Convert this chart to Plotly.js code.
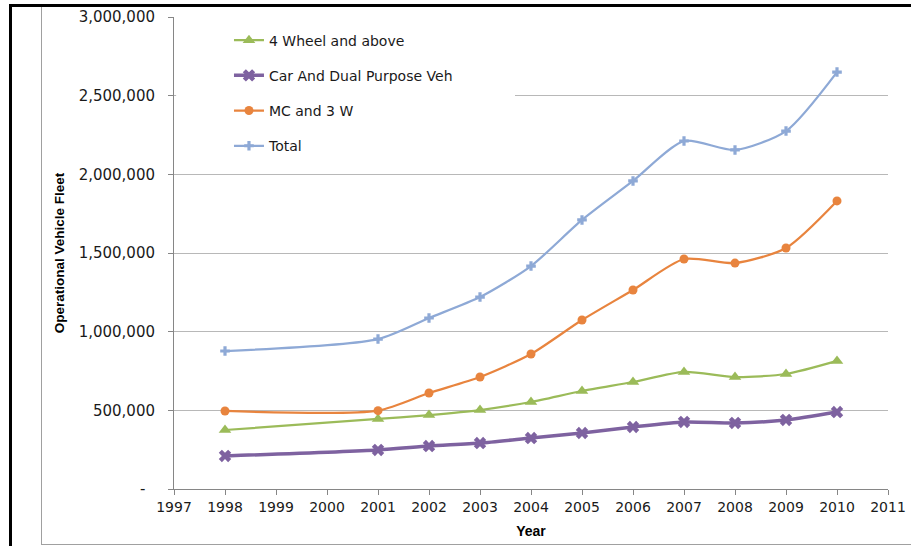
<!DOCTYPE html>
<html>
<head>
<meta charset="utf-8">
<script src="https://cdn.plot.ly/plotly-3.0.1.min.js"></script>
<style>
  html, body { margin: 0; padding: 0; background: #fff; }
  #wrap { position: relative; width: 911px; height: 546px; overflow: hidden; }
  #chart { position: absolute; left: 0; top: 0; width: 911px; height: 546px; }
  #blackframe { position: absolute; left: 9px; top: 4px; width: 920px; height: 560px;
    border-left: 3px solid #000; border-top: 3px solid #000; pointer-events: none; }
  #grayframe { position: absolute; left: 41px; top: 6px; width: 900px; height: 537px;
    border-left: 1px solid #a0a0a0; border-top: 1px solid #a0a0a0; border-bottom: 1px solid #a0a0a0; pointer-events: none; }
</style>
</head>
<body>
<div id="wrap">
  <div id="chart"></div>
  <div id="grayframe"></div>
  <div id="blackframe"></div>
</div>
<script>
const years = [1998, 2001, 2002, 2003, 2004, 2005, 2006, 2007, 2008, 2009, 2010];
const fourWheel = [375000, 445000, 470000, 502000, 553000, 623000, 680000, 744000, 712000, 731000, 814000];
const carDual = [210000, 248000, 273000, 292000, 324000, 356000, 394000, 426000, 420000, 439000, 489000];
const mc3w = [496000, 498000, 610000, 712000, 858000, 1074000, 1265000, 1462000, 1436000, 1532000, 1831000];
const total = [877000, 953000, 1087000, 1220000, 1417000, 1710000, 1958000, 2212000, 2155000, 2275000, 2650000];

const seriesNames = ['4 Wheel and above', 'Car And Dual Purpose Veh', 'MC and 3 W', 'Total'];
const xTickVals = [1997, 1998, 1999, 2000, 2001, 2002, 2003, 2004, 2005, 2006, 2007, 2008, 2009, 2010, 2011];
const yTickVals = [0, 500000, 1000000, 1500000, 2000000, 2500000, 3000000];
const yTickText = ['-\u00a0\u00a0', '500,000', '1,000,000', '1,500,000', '2,000,000', '2,500,000', '3,000,000'];

const traces = [
  { x: years, y: fourWheel, name: seriesNames[0], legendgroup: 'a', type: 'scatter', mode: 'lines+markers',
    line: { color: '#9BBB59', width: 2.25, shape: 'spline', smoothing: 0.7 },
    marker: { symbol: 'triangle-up', size: 11, color: '#9BBB59' } },
  { x: years, y: carDual, name: seriesNames[1], legendgroup: 'b', type: 'scatter', mode: 'lines+markers',
    line: { color: '#7E62A0', width: 3.5, shape: 'spline', smoothing: 0.7 },
    marker: { symbol: 'x', size: 11, color: '#7E62A0' } },
  { x: years, y: mc3w, name: seriesNames[2], legendgroup: 'c', type: 'scatter', mode: 'lines+markers',
    line: { color: '#E8843E', width: 2.25, shape: 'spline', smoothing: 0.7 },
    marker: { symbol: 'circle', size: 9, color: '#E8843E' } },
  { x: years, y: total, name: seriesNames[3], legendgroup: 'd', type: 'scatter', mode: 'lines+markers',
    line: { color: '#8EA9D6', width: 2.25, shape: 'spline', smoothing: 0.7 },
    marker: { symbol: 'cross', size: 8, color: '#8EA9D6' } }
];

const layout = {
  width: 911, height: 546,
  margin: { l: 174, r: 23, t: 17, b: 57 },
  paper_bgcolor: '#ffffff', plot_bgcolor: '#ffffff',
  font: { family: 'DejaVu Sans, sans-serif', size: 14, color: '#1a1a1a' },
  showlegend: true,
  legend: {
    x: 0.077, y: 0.984, xanchor: 'left', yanchor: 'top',
    bgcolor: 'rgba(255,255,255,0)', borderwidth: 0,
    traceorder: 'grouped', tracegroupgap: 14,
    font: { family: 'DejaVu Sans, sans-serif', size: 14, color: '#1a1a1a' }
  },
  xaxis: {
    range: [1997, 2011], tickmode: 'array', tickvals: xTickVals,
    ticks: 'outside', ticklen: 5, tickcolor: '#868686', tickwidth: 1,
    showline: true, linecolor: '#868686', linewidth: 1,
    showgrid: false, zeroline: false,
    tickfont: { family: 'DejaVu Sans, sans-serif', size: 14, color: '#1a1a1a' },
    title: { text: 'Year', standoff: 12, font: { family: 'Liberation Sans, sans-serif', size: 14, color: '#000', weight: 'bold' } }
  },
  yaxis: {
    range: [0, 3000000], tickmode: 'array', tickvals: yTickVals, ticktext: yTickText,
    ticks: 'outside', ticklen: 5, tickcolor: '#868686', tickwidth: 1,
    showline: true, linecolor: '#868686', linewidth: 1,
    showgrid: true, gridcolor: '#b8b8b8', gridwidth: 1, zeroline: false,
    ticklabelstandoff: 10,
    tickfont: { family: 'DejaVu Sans, sans-serif', size: 15, color: '#1a1a1a' },
    title: { text: 'Operational Vehicle Fleet', standoff: 10, font: { family: 'Liberation Sans, sans-serif', size: 13.5, color: '#000', weight: 'bold' } }
  },
  shapes: [
    { type: 'rect', xref: 'paper', yref: 'paper', x0: 0.003, x1: 0.4776, y0: 0.6864, y1: 0.983,
      fillcolor: '#ffffff', line: { width: 0 }, layer: 'above' }
  ]
};

Plotly.newPlot('chart', traces, layout, { displayModeBar: false, staticPlot: true });
</script>
</body>
</html>
